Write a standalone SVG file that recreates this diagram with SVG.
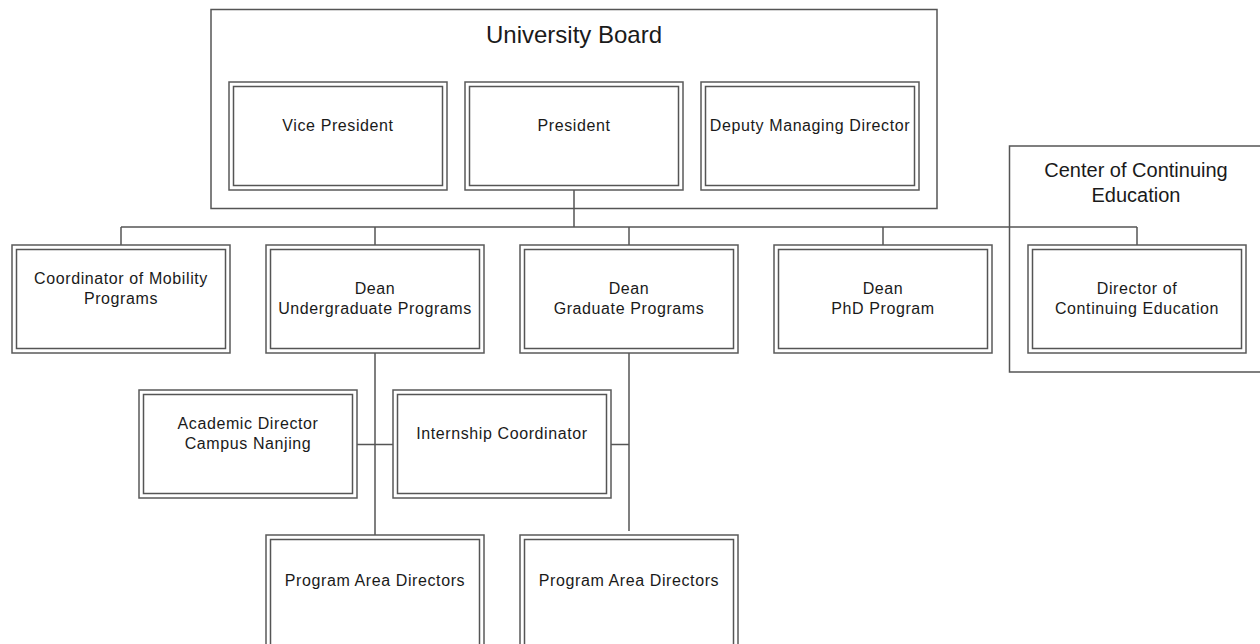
<svg xmlns="http://www.w3.org/2000/svg" width="1260" height="644" viewBox="0 0 1260 644">
<style>
.bg{fill:#fff}
.cont{fill:none;stroke:#555;stroke-width:1.5}
.o{fill:#fff;stroke:#5a5a5a;stroke-width:1.5}
.i{fill:none;stroke:#555;stroke-width:1.5}
.t{font-family:"Liberation Sans",Arial,sans-serif;font-size:16px;letter-spacing:0.6px;fill:#1a1a1a;text-anchor:middle}
.tt{font-family:"Liberation Sans",Arial,sans-serif;fill:#1a1a1a;text-anchor:middle}
.c{fill:none;stroke:#555;stroke-width:1.5}
</style>
<defs>
<g id="box"><rect class="o" x="0" y="0" width="218" height="108"/><rect class="i" x="4.5" y="4.5" width="209" height="99"/></g>
<g id="boxtall"><rect class="o" x="0" y="0" width="218" height="125"/><rect class="i" x="4.5" y="4.5" width="209" height="116"/></g>
</defs>
<rect class="bg" width="1260" height="644"/>
<g id="university-board">
<rect class="cont" x="211" y="9.5" width="726" height="199"/>
<text class="tt" x="574" y="43" font-size="24">University Board</text>
</g>
<g id="center-continuing-education">
<rect class="cont" x="1009.5" y="146" width="260" height="226"/>
<text class="tt" x="1136" y="177" font-size="20">Center of Continuing</text>
<text class="tt" x="1136" y="202" font-size="20">Education</text>
</g>
<g id="connectors">
<path class="c" d="M574 190V227M121 227H1137M121 227V245M375 227V245M629 227V245M883 227V245M1137 227V245"/>
<path class="c" d="M375 353V535M357 444.5H393"/>
<path class="c" d="M629 353V531M611 444.5H629"/>
</g>
<g id="vice-president"><use href="#box" x="229" y="82"/><text class="t" x="338" y="131">Vice President</text></g>
<g id="president"><use href="#box" x="465" y="82"/><text class="t" x="574" y="131">President</text></g>
<g id="deputy-managing-director"><use href="#box" x="701" y="82"/><text class="t" x="810" y="131" letter-spacing="0">Deputy Managing Director</text></g>
<g id="coordinator-mobility"><use href="#box" x="12" y="245"/><text class="t" x="121" y="284">Coordinator of Mobility</text><text class="t" x="121" y="304">Programs</text></g>
<g id="dean-undergraduate"><use href="#box" x="266" y="245"/><text class="t" x="375" y="294">Dean</text><text class="t" x="375" y="314">Undergraduate Programs</text></g>
<g id="dean-graduate"><use href="#box" x="520" y="245"/><text class="t" x="629" y="294">Dean</text><text class="t" x="629" y="314">Graduate Programs</text></g>
<g id="dean-phd"><use href="#box" x="774" y="245"/><text class="t" x="883" y="294">Dean</text><text class="t" x="883" y="314">PhD Program</text></g>
<g id="director-continuing-education"><use href="#box" x="1028" y="245"/><text class="t" x="1137" y="294">Director of</text><text class="t" x="1137" y="314">Continuing Education</text></g>
<g id="academic-director"><use href="#box" x="139" y="390"/><text class="t" x="248" y="429">Academic Director</text><text class="t" x="248" y="449">Campus Nanjing</text></g>
<g id="internship-coordinator"><use href="#box" x="393" y="390"/><text class="t" x="502" y="439">Internship Coordinator</text></g>
<g id="program-area-directors-ug"><use href="#boxtall" x="266" y="535"/><text class="t" x="375" y="586">Program Area Directors</text></g>
<g id="program-area-directors-grad"><use href="#boxtall" x="520" y="535"/><text class="t" x="629" y="586">Program Area Directors</text></g>
</svg>
